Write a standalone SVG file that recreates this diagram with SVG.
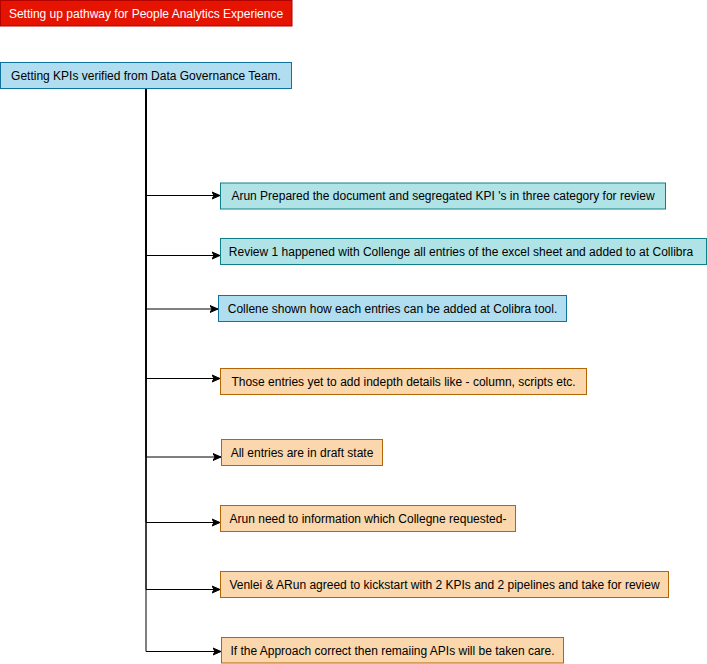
<svg xmlns="http://www.w3.org/2000/svg" width="707" height="664" viewBox="0 0 707 664">
<style>
text{font-family:"Liberation Sans",Arial,sans-serif;font-size:12px;text-anchor:middle;dominant-baseline:central;fill:#000}
.red{fill:#e51400;stroke:#b20000}
.blue{fill:#b1ddf0;stroke:#10739e}
.teal{fill:#b0e3e6;stroke:#0e8088}
.orange{fill:#fad7ac;stroke:#b46504}
.edge{fill:none;stroke:#000;stroke-width:1}
</style>
<defs>
<marker id="arr" markerUnits="userSpaceOnUse" markerWidth="10" markerHeight="10" refX="8" refY="5" orient="auto" viewBox="0 0 10 10">
<path d="M0,1.5 L8,5 L0,8.5 L2,5 Z" fill="#000" stroke="#000" stroke-width="1"/>
</marker>
</defs>
<rect width="707" height="664" fill="#fff"/>
<g id="edges">
<path class="edge" d="M146 89 V195.5 H220" marker-end="url(#arr)"/>
<path class="edge" d="M146 89 V255.5 H220" marker-end="url(#arr)"/>
<path class="edge" d="M146 89 V309 H218" marker-end="url(#arr)"/>
<path class="edge" d="M146 89 V378.5 H220" marker-end="url(#arr)"/>
<path class="edge" d="M146 89 V457 H221" marker-end="url(#arr)"/>
<path class="edge" d="M146 89 V522.5 H220" marker-end="url(#arr)"/>
<path class="edge" d="M146 89 V589.5 H220" marker-end="url(#arr)"/>
<path class="edge" d="M146 89 V651.5 H221" marker-end="url(#arr)"/>
</g>
<g id="title">
<rect class="red" x="0.5" y="0.5" width="291.5" height="25.5"/>
<text x="146" y="13.5" style="fill:#fff">Setting up pathway for People Analytics Experience</text>
</g>
<g id="root">
<rect class="blue" x="0.5" y="62.5" width="291" height="26"/>
<text x="146" y="75.5">Getting KPIs verified from Data Governance Team.</text>
</g>
<g id="n1">
<rect class="teal" x="220.5" y="183" width="445" height="26"/>
<text x="443" y="196">Arun Prepared the document and segregated KPI 's in three category for review</text>
</g>
<g id="n2">
<rect class="teal" x="220.5" y="238.5" width="486" height="26"/>
<text x="461" y="251.5">Review 1 happened with Collenge all entries of the excel sheet and added to at Collibra</text>
</g>
<g id="n3">
<rect class="blue" x="218.5" y="295.5" width="348" height="26"/>
<text x="392.5" y="308.5">Collene shown how each entries can be added at Colibra tool.</text>
</g>
<g id="n4">
<rect class="orange" x="220.5" y="368.5" width="366" height="26"/>
<text x="403.5" y="381.5">Those entries yet to add indepth details like - column, scripts etc.</text>
</g>
<g id="n5">
<rect class="orange" x="221.5" y="439.5" width="161" height="26"/>
<text x="302" y="452.5">All entries are in draft state</text>
</g>
<g id="n6">
<rect class="orange" x="220.5" y="505.5" width="295" height="26"/>
<text x="368" y="518.5">Arun need to information which Collegne requested-</text>
</g>
<g id="n7">
<rect class="orange" x="220.5" y="571.5" width="448" height="26"/>
<text x="444.5" y="584.5">Venlei &amp; ARun agreed to kickstart with 2 KPIs and 2 pipelines and take for review</text>
</g>
<g id="n8">
<rect class="orange" x="221.5" y="637.5" width="342" height="25.5"/>
<text x="392.5" y="650.5">If the Approach correct then remaiing APIs will be taken care.</text>
</g>
</svg>
